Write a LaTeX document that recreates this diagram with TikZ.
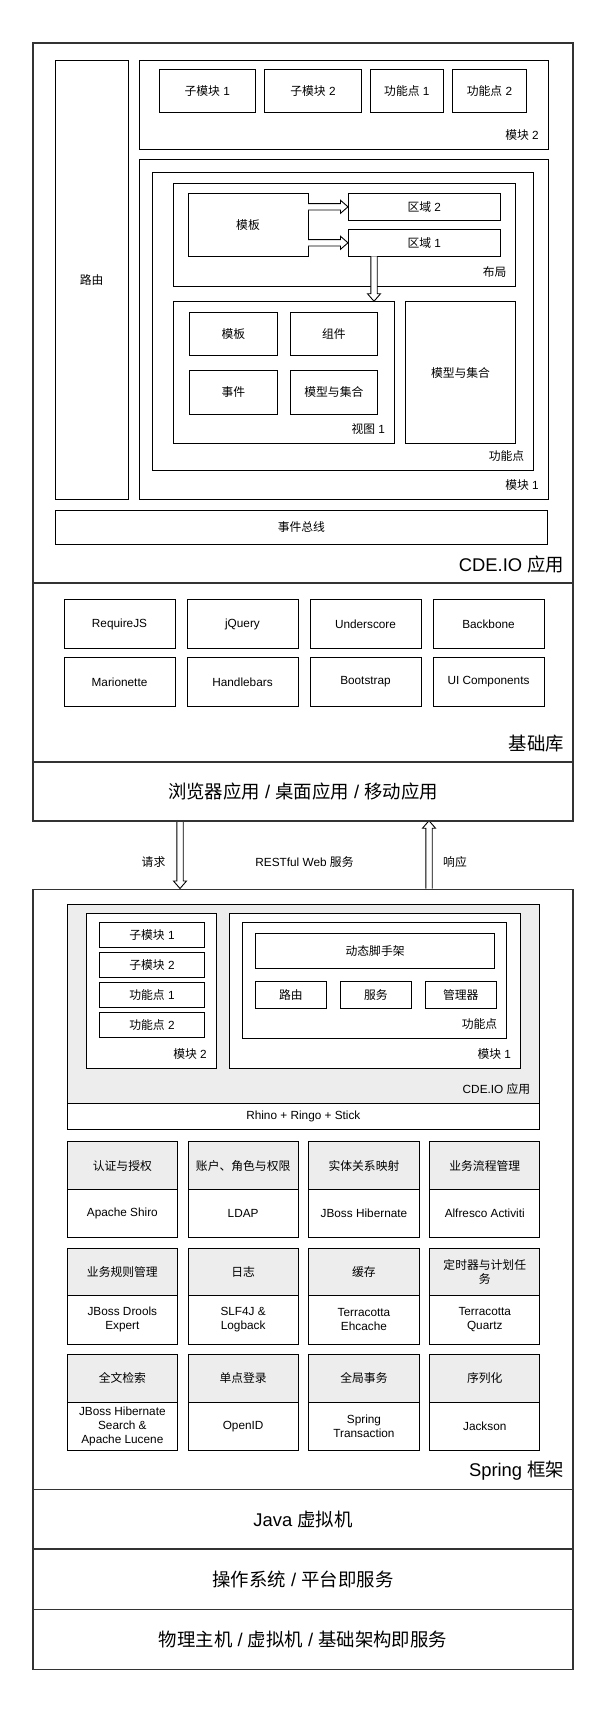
\documentclass[tikz,border=0pt]{standalone}
\usepackage{fontspec}
\setmainfont{Liberation Sans}
\newfontfamily\zhfont{Noto Sans CJK SC}
\newcommand\zh[1]{{\zhfont #1}}
\newcommand\smallfs{\fontsize{11.8}{14}\selectfont}
\newcommand\bigfs{\fontsize{18.4}{22}\selectfont}
\usetikzlibrary{fit,calc,backgrounds}

\tikzset{
	layer/.style={draw=black!80, line width=1.6pt, inner sep=0pt, font=\bigfs},
	box/.style={draw, fill=white, line width=0.9pt, inner sep=0pt, align=center, font=\smallfs},
	sized/.style 2 args={anchor=north west, outer sep=0pt, minimum width=#1, minimum height=#2},
	grey/.style={fill=black!7},
	tag/.style={anchor=south east, inner xsep=9.5pt, inner ysep=9pt, font=\smallfs},
	bigtag/.style={anchor=south east, inner xsep=9.5pt, inner ysep=10pt, font=\bigfs},
	arrowbody/.style={draw, fill=white, line width=0.9pt, line join=miter},
}

% hollow arrow: tail, tip, unit vector from tip back to tail, unit normal
\newcommand\hollowarrow[4]{%
	\draw[arrowbody] ($(#1)+3.2*#4$) -- ($(#2)+7.5*#3+3.2*#4$) -- ($(#2)+7.5*#3+6.5*#4$) -- (#2)
		-- ($(#2)+7.5*#3-6.5*#4$) -- ($(#2)+7.5*#3-3.2*#4$) -- ($(#1)-3.2*#4$);}

\begin{document}
\begin{tikzpicture}[x=1pt, y=-1pt]
	\useasboundingbox (0,0) rectangle (607,1713);

	% layers
	\node[layer, fit={(33,43) (573,582.7)}] (app) {};
	\node[bigtag] (applbl) at (app.south east) {CDE.IO \zh{应用}};
	\node[layer, fit={(33,582.7) (573,761.7)}] (lib) {};
	\node[bigtag] (liblbl) at (lib.south east) {\zh{基础库}};
	\node[layer, sized={540}{59}] (client) at (33,761.7) {\zh{浏览器应用} / \zh{桌面应用} / \zh{移动应用}};
	\node[layer, fit={(33,889.3) (573,1489.3)}] (spring) {};
	\node[bigtag] (springlbl) at (spring.south east) {Spring \zh{框架}};
	\node[layer, sized={540}{59.7}] (jvm) at (33,1489.3) {Java \zh{虚拟机}};
	\node[layer, sized={540}{60.3}] (os) at (33,1549) {\zh{操作系统} / \zh{平台即服务}};
	\node[layer, sized={540}{60}] (host) at (33,1609.3) {\zh{物理主机} / \zh{虚拟机} / \zh{基础架构即服务}};

	% front end app
	\node[box, sized={72.7}{438.6}] (router) at (55.3,60.7) {\zh{路由}};
	\node[box, fit={(139,60.7) (548,149)}] (mod2) {};
	\node[tag] (mod2lbl) at (mod2.south east) {\zh{模块} 2};
	\node[box, sized={95.5}{43}] (sub1) at (159.5,69.3) {\zh{子模块} 1};
	\node[box, sized={97.2}{43}] (sub2) at (264.4,69.3) {\zh{子模块} 2};
	\node[box, sized={72.9}{43}] (fp1) at (370.4,69.3) {\zh{功能点} 1};
	\node[box, sized={74}{43}] (fp2) at (452.5,69.3) {\zh{功能点} 2};

	\node[box, fit={(139,159.3) (548,499.3)}] (mod1) {};
	\node[tag] (mod1lbl) at (mod1.south east) {\zh{模块} 1};
	\node[box, fit={(152.5,172.3) (533.5,470)}] (feat) {};
	\node[tag] (featlbl) at (feat.south east) {\zh{功能点}};
	\node[box, fit={(173.5,183.3) (515.6,286.3)}] (layout) {};
	\node[tag] (layoutlbl) at (layout.south east) {\zh{布局}};
	\node[box, sized={120}{63}] (tpl) at (188,193.3) {\zh{模板}};
	\node[box, sized={152.5}{27}] (reg2) at (348,193.3) {\zh{区域} 2};
	\node[box, sized={152.5}{27}] (reg1) at (348,229.3) {\zh{区域} 1};

	\node[box, fit={(173.3,301.7) (394.3,443.3)}] (view) {};
	\node[tag] (viewlbl) at (view.south east) {\zh{视图} 1};
	\node[box, sized={88.7}{43}] (vtpl) at (189,312.3) {\zh{模板}};
	\node[box, sized={87.7}{43}] (vcmp) at (290,312.3) {\zh{组件}};
	\node[box, sized={88.7}{44}] (vevt) at (189,370.3) {\zh{事件}};
	\node[box, sized={87.7}{44}] (vmod) at (290,370.3) {\zh{模型与集合}};
	\node[box, sized={110.4}{141.6}] (fmod) at (405.3,301.7) {\zh{模型与集合}};
	\node[box, sized={492.2}{34}] (bus) at (55.3,510.3) {\zh{事件总线}};

	\hollowarrow{tpl.east |- reg2.west}{reg2.west}{(-1,0)}{(0,1)}
	\hollowarrow{tpl.east |- reg1.west}{reg1.west}{(-1,0)}{(0,1)}
	\coordinate (drop) at ($(reg1.south west)+(26,0)$);
	\hollowarrow{drop}{drop |- view.north}{(0,-1)}{(1,0)}

	% libraries
	\foreach \libname [count=\i from 0] in {RequireJS, jQuery, Underscore, Backbone, Marionette, Handlebars, Bootstrap, UI Components}{
		\pgfmathsetmacro\xa{64+123*mod(\i,4)}
		\pgfmathsetmacro\ya{599.5+58*int(\i/4)}
		\node[box, sized={111}{49}] (lib-\i) at (\xa,\ya) {\libname};
	}

	% request / response
	\coordinate (req) at (180,0);
	\coordinate (resp) at (429,0);
	\begin{scope}[on background layer]
		\hollowarrow{req |- client.south}{req |- spring.north}{(0,-1)}{(1,0)}
		\hollowarrow{resp |- spring.north}{resp |- client.south}{(0,1)}{(1,0)}
	\end{scope}
	\node[font=\smallfs] (reqlbl) at (153.5,861.7) {\zh{请求}};
	\node[font=\smallfs] (restlbl) at (304.5,861.7) {RESTful Web \zh{服务}};
	\node[font=\smallfs] (resplbl) at (455,861.7) {\zh{响应}};

	% back end app
	\node[box, grey, fit={(67.2,904.3) (539.5,1103.3)}] (sapp) {};
	\node[tag] (sapplbl) at (sapp.south east) {CDE.IO \zh{应用}};
	\node[box, sized={472.3}{25.7}] (rhino) at (67.2,1103.3) {Rhino + Ringo + Stick};
	\node[box, fit={(86.5,913.3) (216,1068.3)}] (smod2) {};
	\node[tag] (smod2lbl) at (smod2.south east) {\zh{模块} 2};
	\foreach \modname [count=\i from 0] in {\zh{子模块} 1, \zh{子模块} 2, \zh{功能点} 1, \zh{功能点} 2}{
		\pgfmathsetmacro\ya{922.3+30.2*\i}
		\node[box, sized={104.9}{25}] (sitem-\i) at (99.5,\ya) {\modname};
	}
	\node[box, fit={(229.3,913.3) (520.2,1068.3)}] (smod1) {};
	\node[tag] (smod1lbl) at (smod1.south east) {\zh{模块} 1};
	\node[box, fit={(242.3,922.3) (506.5,1038.3)}] (sfeat) {};
	\node[tag] (sfeatlbl) at (sfeat.south east) {\zh{功能点}};
	\node[box, sized={239.6}{35}] (scaf) at (255.3,933.3) {\zh{动态脚手架}};
	\foreach \svc [count=\i from 0] in {\zh{路由}, \zh{服务}, \zh{管理器}}{
		\pgfmathsetmacro\xa{255.3+85*\i}
		\node[box, sized={71}{27}] (ssvc-\i) at (\xa,981.3) {\svc};
	}

	% spring services
	\foreach \c/\r/\hd/\vl in {
		0/0/{\zh{认证与授权}}/{Apache Shiro},
		1/0/{\zh{账户、角色与权限}}/{LDAP},
		2/0/{\zh{实体关系映射}}/{JBoss Hibernate},
		3/0/{\zh{业务流程管理}}/{Alfresco Activiti},
		0/1/{\zh{业务规则管理}}/{JBoss Drools\\Expert},
		1/1/{\zh{日志}}/{SLF4J \&\\Logback},
		2/1/{\zh{缓存}}/{Terracotta\\Ehcache},
		3/1/{\zh{定时器与计划任}\\\zh{务}}/{Terracotta\\Quartz},
		0/2/{\zh{全文检索}}/{JBoss Hibernate\\Search \&\\Apache Lucene},
		1/2/{\zh{单点登录}}/{OpenID},
		2/2/{\zh{全局事务}}/{Spring\\Transaction},
		3/2/{\zh{序列化}}/{Jackson}}{
		\pgfmathsetmacro\xa{67.2+120.8*\c}
		\pgfmathsetmacro\ya{1141.7+106.3*\r}
		\node[box, grey, sized={110.3}{47.8}] (head-\c-\r) at (\xa,\ya) {\hd};
		\node[box, sized={110.3}{48.2}] (val-\c-\r) at (\xa,\ya+47.8) {\vl};
	}
\end{tikzpicture}
\end{document}
